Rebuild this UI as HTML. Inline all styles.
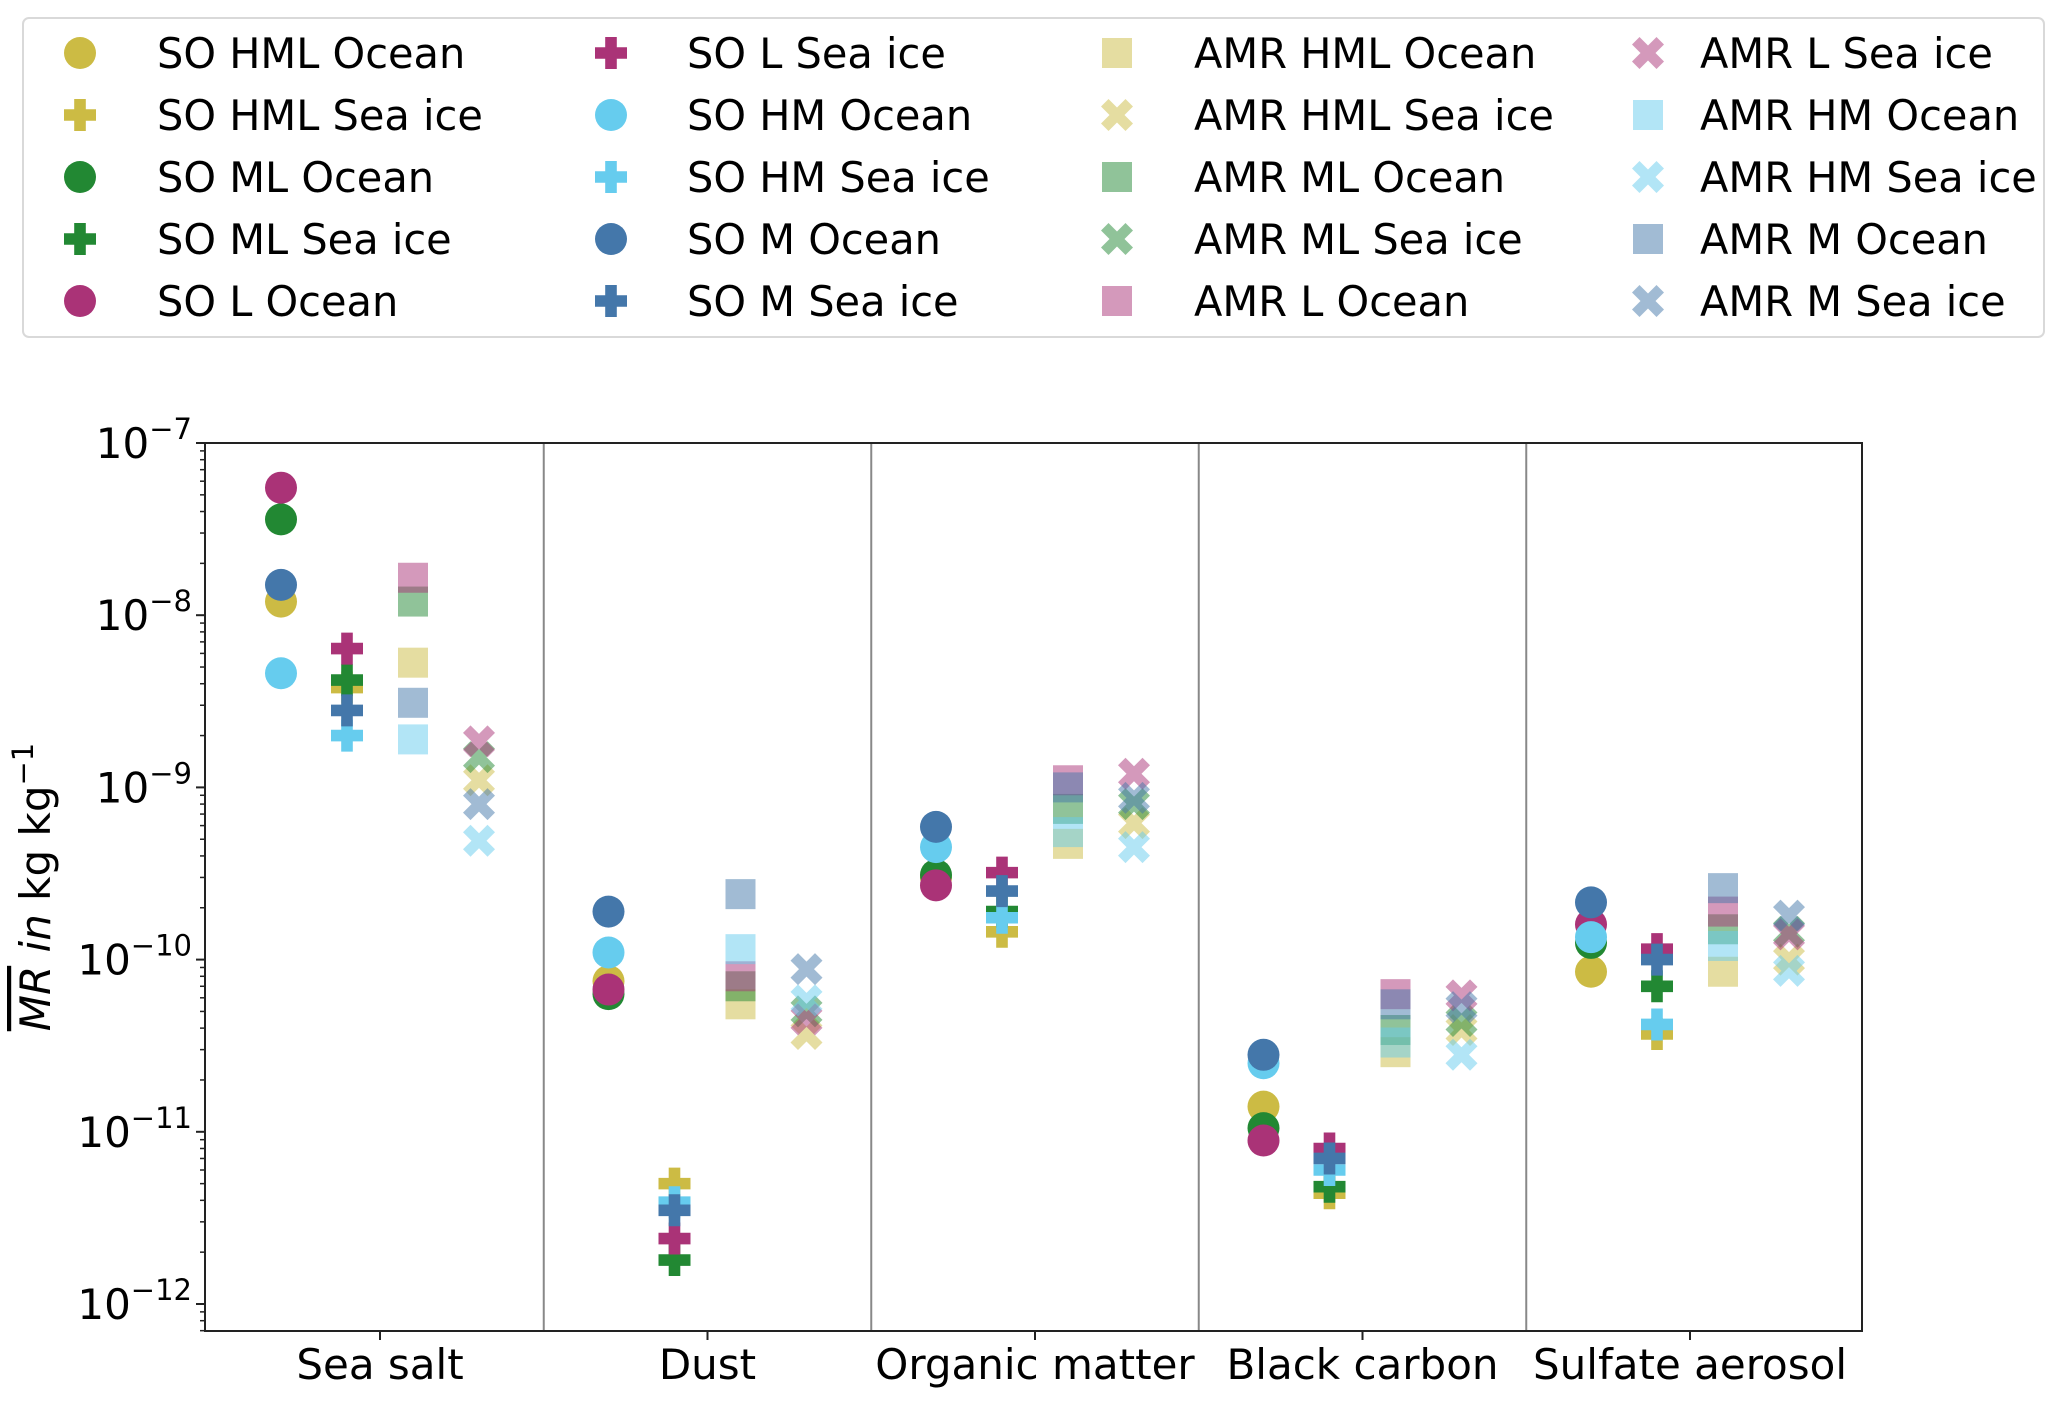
<!DOCTYPE html>
<html><head><meta charset="utf-8"><style>
html,body{margin:0;padding:0;background:#fff;}
svg{display:block;font-family:"DejaVu Sans","Liberation Sans",sans-serif;}
</style></head><body>
<svg id="chart" width="2067" height="1405" viewBox="0 0 2067 1405" xmlns="http://www.w3.org/2000/svg">
<rect width="2067" height="1405" fill="#fff"/>
<g id="legend">
<rect x="23" y="18" width="2021" height="319" rx="6" fill="#fff" stroke="#d9d9d9" stroke-width="2"/>
</g>
<g id="axes"></g>
<g id="marks"></g>
<text transform="translate(50,887) rotate(-90)" text-anchor="middle" font-size="42"><tspan font-style="italic" text-decoration="overline">MR</tspan><tspan font-style="italic"> in</tspan> kg kg<tspan baseline-shift="super" font-size="29">−1</tspan></text>
</svg>
<script>
const categories = ["Sea salt","Dust","Organic matter","Black carbon","Sulfate aerosol"];
const yTickExps = [-7,-8,-9,-10,-11,-12];
// SO Ocean (circles)
const soHmlOcean = [1.2e-8, 7.5e-11, 3.0e-10, 1.4e-11, 8.5e-11];
const soMlOcean  = [3.6e-8, 6.3e-11, 3.1e-10, 1.05e-11, 1.25e-10];
const soLOcean   = [5.5e-8, 6.7e-11, 2.7e-10, 8.9e-12, 1.6e-10];
const soHmOcean  = [4.6e-9, 1.1e-10, 4.5e-10, 2.5e-11, 1.35e-10];
const soMOcean   = [1.5e-8, 1.9e-10, 5.9e-10, 2.8e-11, 2.15e-10];
// SO Sea ice (plus)
const soHmlIce = [3.8e-9, 5e-12, 1.45e-10, 4.4e-12, 3.7e-11];
const soMlIce  = [4.2e-9, 1.8e-12, 1.9e-10, 4.8e-12, 7e-11];
const soLIce   = [6.4e-9, 2.4e-12, 3.2e-10, 8e-12, 1.15e-10];
const soHmIce  = [2.0e-9, 3.9e-12, 1.75e-10, 6e-12, 4.2e-11];
const soMIce   = [2.8e-9, 3.5e-12, 2.5e-10, 7e-12, 1.0e-10];
// AMR Ocean (squares)
const amrHmlOcean = [5.3e-9, 5.5e-11, 4.7e-10, 2.9e-11, 8.5e-11];
const amrMlOcean  = [1.2e-8, 7e-11, 7.5e-10, 3.9e-11, 1.5e-10];
const amrLOcean   = [1.65e-8, 8e-11, 1.1e-9, 6.3e-11, 1.9e-10];
const amrHmOcean  = [1.9e-9, 1.15e-10, 5.5e-10, 3.3e-11, 1.2e-10];
const amrMOcean   = [3.1e-9, 2.4e-10, 1.0e-9, 5.5e-11, 2.6e-10];
// AMR Sea ice (X)
const amrHmlIce = [1.1e-9, 3.7e-11, 6.2e-10, 3.9e-11, 1.0e-10];
const amrMlIce  = [1.5e-9, 5e-11, 8e-10, 4.4e-11, 1.45e-10];
const amrLIce   = [1.85e-9, 4.5e-11, 1.2e-9, 6.2e-11, 1.4e-10];
const amrHmIce  = [4.9e-10, 5.8e-11, 4.5e-10, 2.8e-11, 8.6e-11];
const amrMIce   = [8e-10, 8.8e-11, 8.7e-10, 5.3e-11, 1.8e-10];

const NS="http://www.w3.org/2000/svg";
const L=205,R=1862,T=443,B=1331,DEC=172.2;
const C0=380,GW=327.5;
function yPx(v){return T+(-7-Math.log10(v))*DEC;}
function catX(ci){return C0+GW*ci;}
function xPx(ci,col){return catX(ci)+(col-1.5)*66;}
function mk(tag,attrs,parent){const e=document.createElementNS(NS,tag);for(const k in attrs)e.setAttribute(k,attrs[k]);parent.appendChild(e);return e;}
const C={y:"#CCBB44",g:"#228833",p:"#AA3377",c:"#66CCEE",b:"#4477AA"};
const series=[
 ["SO HML Ocean",soHmlOcean,"o",C.y,1,0],["SO HML Sea ice",soHmlIce,"P",C.y,1,1],
 ["SO ML Ocean",soMlOcean,"o",C.g,1,0],["SO ML Sea ice",soMlIce,"P",C.g,1,1],
 ["SO L Ocean",soLOcean,"o",C.p,1,0],["SO L Sea ice",soLIce,"P",C.p,1,1],
 ["SO HM Ocean",soHmOcean,"o",C.c,1,0],["SO HM Sea ice",soHmIce,"P",C.c,1,1],
 ["SO M Ocean",soMOcean,"o",C.b,1,0],["SO M Sea ice",soMIce,"P",C.b,1,1],
 ["AMR HML Ocean",amrHmlOcean,"s",C.y,0.5,2],["AMR HML Sea ice",amrHmlIce,"X",C.y,0.5,3],
 ["AMR ML Ocean",amrMlOcean,"s",C.g,0.5,2],["AMR ML Sea ice",amrMlIce,"X",C.g,0.5,3],
 ["AMR L Ocean",amrLOcean,"s",C.p,0.5,2],["AMR L Sea ice",amrLIce,"X",C.p,0.5,3],
 ["AMR HM Ocean",amrHmOcean,"s",C.c,0.5,2],["AMR HM Sea ice",amrHmIce,"X",C.c,0.5,3],
 ["AMR M Ocean",amrMOcean,"s",C.b,0.5,2],["AMR M Sea ice",amrMIce,"X",C.b,0.5,3]
];
function marker(shape,cx,cy,color,alpha,parent){
 let e;
 if(shape==="o") e=mk("circle",{cx:cx,cy:cy,r:16},parent);
 else if(shape==="s") e=mk("rect",{x:cx-15,y:cy-15,width:30,height:30},parent);
 else if(shape==="P"){const a=16,w=5.8;
  e=mk("polygon",{points:[[-w,-a],[w,-a],[w,-w],[a,-w],[a,w],[w,w],[w,a],[-w,a],[-w,w],[-a,w],[-a,-w],[-w,-w]].map(p=>(cx+p[0])+","+(cy+p[1])).join(" ")},parent);}
 else {const a=16,d=7.5,c=7.5;
  const pts=[[-a,-a+d],[-a+d,-a],[0,-c],[a-d,-a],[a,-a+d],[c,0],[a,a-d],[a-d,a],[0,c],[-a+d,a],[-a,a-d],[-c,0]];
  e=mk("polygon",{points:pts.map(p=>(cx+p[0])+","+(cy+p[1])).join(" ")},parent);}
 e.setAttribute("fill",color);e.setAttribute("fill-opacity",alpha);
 return e;
}
const axes=document.getElementById("axes");
for(let i=0;i<categories.length-1;i++){
 const x=catX(i)+GW/2;
 const ln=mk("line",{x1:x,x2:x,y1:T,y2:B,stroke:"#888",'stroke-width':2},axes);
 
 
}
for(let e=-13;e<=-7;e++){
 for(let m=1;m<10;m++){
  if(e===-7&&m>1)break;
  const v=m*Math.pow(10,e);const y=yPx(v);
  if(y>B)continue;
  const tk=mk("line",{x1:L,x2:L-(m===1?9:5),y1:y,y2:y,stroke:"#222",'stroke-width':m===1?2:1.5},axes);
  
  
 }
}
yTickExps.forEach(ex=>{
 const t=mk("text",{x:192,y:yPx(Math.pow(10,ex))+15,'text-anchor':'end','font-size':42,fill:'#000'},axes);
 
 
 const a=mk("tspan",{},t);a.textContent="10";
 const b=mk("tspan",{dy:-19,'font-size':29},t);b.textContent="−"+(-ex);
});
categories.forEach((c,i)=>{
 const x=catX(i);
 const tk=mk("line",{x1:x,x2:x,y1:B,y2:B+9,stroke:"#222",'stroke-width':2},axes);
 
 
 const t=mk("text",{x:x,y:B+48,'text-anchor':'middle','font-size':42,fill:'#000'},axes);
 t.textContent=c;
 
 
});
const fr=mk("rect",{x:L,y:T,width:R-L,height:B-T,fill:'none',stroke:'#222','stroke-width':2},axes);


const marks=document.getElementById("marks");
series.forEach(s=>{
 const g=mk("g",{},marks);
 
 
 s[1].forEach((v,ci)=>{
  const m=marker(s[2],xPx(ci,s[5]),yPx(v),s[3],s[4],g);
  
  
 });
});
const lg=document.getElementById("legend");
const colMX=[80,611,1117,1648],colTX=[157,687,1194,1700];
series.forEach((s,i)=>{
 const col=Math.floor(i/5),row=i%5;const cy=53+row*62;
 const g=mk("g",{},lg);
 
 
 marker(s[2],colMX[col],cy,s[3],s[4],g);
 const t=mk("text",{x:colTX[col],y:cy+15,'font-size':41.5,fill:'#000'},g);
 t.textContent=s[0];
});
</script>
</body></html>
